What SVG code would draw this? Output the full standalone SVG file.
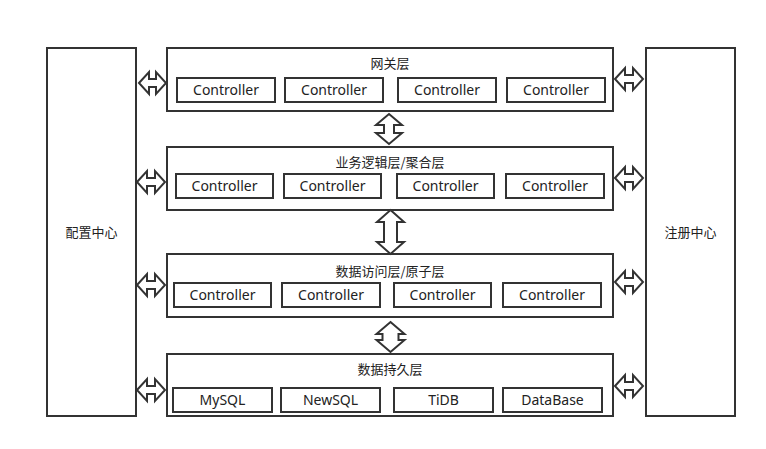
<svg xmlns="http://www.w3.org/2000/svg" width="766" height="449" viewBox="0 0 766 449">
<style>
.box{fill:#fff;stroke:#333;stroke-width:2}
.arr{fill:#fff;stroke:#333;stroke-width:2;stroke-linejoin:miter}
.t{font-family:"Noto Sans CJK SC","Noto Sans",sans-serif;font-size:13px;fill:#222;text-anchor:middle}
.c{font-family:"Noto Sans","Open Sans",sans-serif;font-size:14px;fill:#222;text-anchor:middle}
</style>
<rect width="766" height="449" fill="#fff"/>
<g id="config">
<rect class="box" x="47" y="48" width="89" height="368"/>
<text class="t" x="91.5" y="237">配置中心</text>
</g>
<g id="registry">
<rect class="box" x="646" y="48" width="89" height="368"/>
<text class="t" x="690.5" y="237">注册中心</text>
</g>
<g id="gateway">
<rect class="box" x="167" y="48" width="446" height="63"/>
<text class="t" x="390" y="68">网关层</text>
<rect class="box" x="177" y="78" width="98" height="24"/><text class="c" x="226" y="95">Controller</text>
<rect class="box" x="285" y="78" width="98" height="24"/><text class="c" x="334" y="95">Controller</text>
<rect class="box" x="398" y="78" width="98" height="24"/><text class="c" x="447" y="95">Controller</text>
<rect class="box" x="507" y="78" width="98" height="24"/><text class="c" x="556" y="95">Controller</text>
</g>
<g id="business">
<rect class="box" x="167" y="147" width="446" height="63"/>
<text class="t" x="390" y="167">业务逻辑层/聚合层</text>
<rect class="box" x="176" y="174" width="97" height="24"/><text class="c" x="224.5" y="191">Controller</text>
<rect class="box" x="284" y="174" width="97" height="24"/><text class="c" x="332.5" y="191">Controller</text>
<rect class="box" x="397" y="174" width="97" height="24"/><text class="c" x="445.5" y="191">Controller</text>
<rect class="box" x="506" y="174" width="98" height="24"/><text class="c" x="555" y="191">Controller</text>
</g>
<g id="access">
<rect class="box" x="167" y="254" width="446" height="63"/>
<text class="t" x="390" y="276">数据访问层/原子层</text>
<rect class="box" x="174" y="283" width="97" height="24"/><text class="c" x="222.5" y="300">Controller</text>
<rect class="box" x="282" y="283" width="98" height="24"/><text class="c" x="331" y="300">Controller</text>
<rect class="box" x="394" y="283" width="97" height="24"/><text class="c" x="442.5" y="300">Controller</text>
<rect class="box" x="503" y="283" width="98" height="24"/><text class="c" x="552" y="300">Controller</text>
</g>
<g id="persistence">
<rect class="box" x="167" y="354" width="446" height="62"/>
<text class="t" x="390" y="374">数据持久层</text>
<rect class="box" x="173" y="388" width="99" height="24"/><text class="c" x="222.5" y="405">MySQL</text>
<rect class="box" x="281" y="388" width="99" height="24"/><text class="c" x="330.5" y="405">NewSQL</text>
<rect class="box" x="394" y="388" width="99" height="24"/><text class="c" x="443.5" y="405">TiDB</text>
<rect class="box" x="503" y="388" width="99" height="24"/><text class="c" x="552.5" y="405">DataBase</text>
</g>
<g id="connectors">
<polygon class="arr" points="139,83 149,72 149,79 156,79 156,72 166,83 156,94 156,87 149,87 149,94"/>
<polygon class="arr" points="137,182 147,171 147,178 155,178 155,171 165,182 155,193 155,186 147,186 147,193"/>
<polygon class="arr" points="137,285 147,274 147,281 155,281 155,274 165,285 155,296 155,289 147,289 147,296"/>
<polygon class="arr" points="137,390 147,379 147,386 155,386 155,379 165,390 155,401 155,394 147,394 147,401"/>
<polygon class="arr" points="615,79 625,68 625,75 633,75 633,68 643,79 633,90 633,83 625,83 625,90"/>
<polygon class="arr" points="615,178 625,167 625,174 633,174 633,167 643,178 633,189 633,182 625,182 625,189"/>
<polygon class="arr" points="615,282 625,271 625,278 633,278 633,271 643,282 633,293 633,286 625,286 625,293"/>
<polygon class="arr" points="615,386 625,375 625,382 633,382 633,375 643,386 633,397 633,390 625,390 625,397"/>
<polygon class="arr" points="389,114 402,125 394,125 394,133 402,133 389,144 376,133 384,133 384,125 376,125"/>
<polygon class="arr" points="390.5,210 404,222 397,222 397,242 404,242 390.5,254 377,242 384,242 384,222 377,222"/>
<polygon class="arr" points="390.5,322 404.5,334 398.5,334 398.5,340 404.5,340 390.5,352 376.5,340 382.5,340 382.5,334 376.5,334"/>
</g>
</svg>
